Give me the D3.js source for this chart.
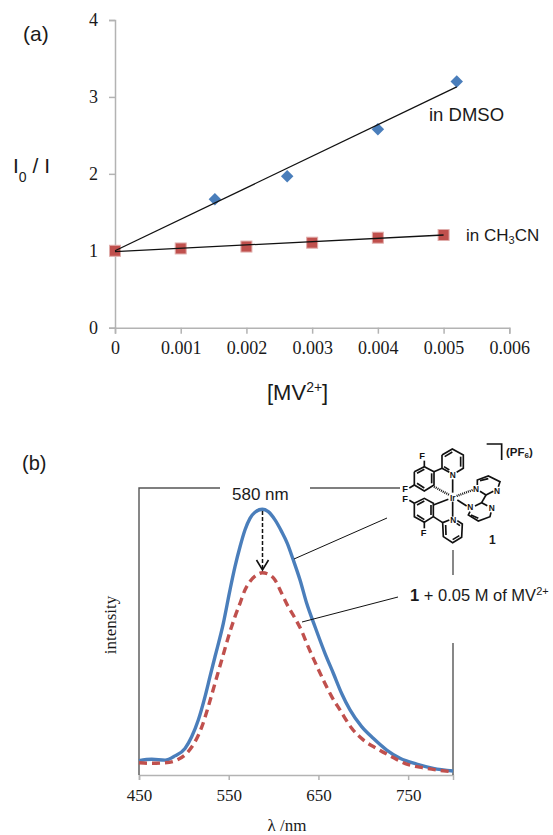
<!DOCTYPE html>
<html>
<head>
<meta charset="utf-8">
<script src="https://d3js.org/d3.v7.min.js"></script>
<style>
  html, body { margin: 0; padding: 0; background: #fff; }
  svg { display: block; }
</style>
</head>
<body>
<div id="chart"></div>
<script>
// panel (a) data
var dmsoConc = [0.00152, 0.00262, 0.004, 0.0052];
var dmsoRatio = [1.67, 1.97, 2.58, 3.2];
var mecnConc = [0, 0.001, 0.002, 0.003, 0.004, 0.005];
var mecnRatio = [1, 1.03, 1.055, 1.105, 1.17, 1.205];
var dmsoFitX = [0, 0.0052];
var dmsoFitY = [1, 3.13];
var mecnFitX = [0, 0.005];
var mecnFitY = [0.99, 1.205];
var xTicksA = [0, 0.001, 0.002, 0.003, 0.004, 0.005, 0.006];
var yTicksA = [0, 1, 2, 3, 4];

// panel (b) data
var blueNm = [450, 464.2, 479, 490.1, 501.3, 508.7, 516.1, 523.6, 529.1, 534.7, 544, 551.4, 557, 562.6, 568.1, 573.7, 579.3, 587.4, 594.1, 601.6, 609, 615.3, 622, 629.5, 636.9, 646.2, 657.3, 666.6, 675.9, 685.2, 698.2, 711.1, 726.1, 740.9, 759.5, 778, 800];
var blueInt = [5.4, 5.9, 5.6, 7.2, 10, 14.4, 20.7, 29.5, 37, 44.5, 57.1, 69.6, 78.4, 85.9, 92.2, 96.6, 98.9, 100, 99.1, 96, 91.6, 87.2, 80.9, 73.4, 64.6, 55.8, 45.8, 38.3, 30.7, 24.5, 18.2, 13.8, 9.4, 6.3, 4.1, 2.5, 1.5];
var redNm = [450, 464.2, 479, 492, 503.2, 512.4, 519.9, 527.2, 534.7, 542.2, 551.4, 557, 562.6, 568.1, 573.7, 581.2, 587.4, 594.1, 601.6, 609, 616.4, 623.9, 631.3, 636.9, 644.3, 655.4, 664.8, 674, 687.1, 700, 714.9, 729.8, 748.4, 766.9, 800];
var redInt = [4.6, 4.4, 4.6, 5.6, 8.2, 12.5, 18, 25.7, 34.5, 43.3, 53.9, 59.6, 64.6, 69.6, 72.8, 75.3, 76.1, 75.6, 73.4, 68.4, 63.3, 59, 54.2, 49.6, 43.9, 35.8, 29.5, 24.5, 17.6, 13.2, 10, 7.2, 4.1, 2.7, 1.2];
var xTicksB = [450, 550, 650, 750];

var svgWidth = 553;
var svgHeight = 835;
var sans = "'Liberation Sans', Arial, sans-serif";
var serif = "'Liberation Serif', 'Times New Roman', serif";
var axisGray = "#b3b3b3";
var blue = "#4a7ebb";
var red = "#c0504d";

var svg = d3.select("#chart")
  .append("svg")
  .attr("width", svgWidth)
  .attr("height", svgHeight);

function zip(xs, ys) {
  return xs.map(function(x, i) { return [x, ys[i]]; });
}

function label(x, y, size, family, text) {
  return svg.append("text")
    .attr("x", x)
    .attr("y", y)
    .attr("font-size", size)
    .attr("font-family", family)
    .attr("fill", "#1a1a1a")
    .text(text);
}

function styleAxis(g, size) {
  g.selectAll("path").attr("stroke", axisGray).attr("stroke-width", 1.5);
  g.selectAll("line").attr("stroke", axisGray).attr("stroke-width", 1.5);
  g.selectAll("text")
    .attr("font-family", serif)
    .attr("font-size", size)
    .attr("fill", "#1a1a1a");
}

// Panel (a)
// ==============================
var xA = d3.scaleLinear().domain([0, 0.006]).range([115, 509.3]);
var yA = d3.scaleLinear().domain([0, 4]).range([327.7, 20]);

var bottomA = d3.axisBottom(xA).tickValues(xTicksA).tickSize(6).tickSizeOuter(6)
  .tickFormat(function(d) { return d === 0 ? "0" : d3.format(".3f")(d); });
var leftA = d3.axisLeft(yA).tickValues(yTicksA).tickSize(6).tickSizeOuter(6).tickFormat(d3.format("d"));

svg.append("g")
  .attr("transform", "translate(0,327.7)")
  .call(bottomA)
  .call(styleAxis, 18)
  .selectAll("text").attr("dy", "0.95em");

svg.append("g")
  .attr("transform", "translate(115,0)")
  .call(leftA)
  .call(styleAxis, 18)
  .selectAll("text").attr("x", -17);

var lineA = d3.line()
  .x(function(d) { return xA(d[0]); })
  .y(function(d) { return yA(d[1]); });

svg.selectAll("rect.mecn")
  .data(zip(mecnConc, mecnRatio))
  .enter().append("rect")
  .attr("class", "mecn")
  .attr("x", function(d) { return xA(d[0]) - 5.5; })
  .attr("y", function(d) { return yA(d[1]) - 5.5; })
  .attr("width", 11)
  .attr("height", 11)
  .attr("fill", red)
  .attr("stroke", "#e0aeac")
  .attr("stroke-width", 1);

svg.selectAll("path.dmso")
  .data(zip(dmsoConc, dmsoRatio))
  .enter().append("path")
  .attr("class", "dmso")
  .attr("d", d3.symbol().type(d3.symbolSquare).size(78))
  .attr("transform", function(d) { return "translate(" + xA(d[0]) + "," + yA(d[1]) + ") rotate(45)"; })
  .attr("fill", blue);

[zip(dmsoFitX, dmsoFitY), zip(mecnFitX, mecnFitY)].forEach(function(fit) {
  svg.append("path")
    .attr("d", lineA(fit))
    .attr("fill", "none")
    .attr("stroke", "#111")
    .attr("stroke-width", 1.3);
});

label(23, 41, 21, sans, "(a)");
var i0 = label(13, 173, 21, sans, "I");
i0.append("tspan").attr("dy", 9).attr("font-size", 14).text("0");
i0.append("tspan").attr("dy", -9).text(" / I");

var mv = label(267, 400, 22, sans, "[MV");
mv.append("tspan").attr("dy", -8).attr("font-size", 14).text("2+");
mv.append("tspan").attr("dy", 8).text("]");

label(429, 121, 18.5, sans, "in DMSO");
var mecn = label(466, 241, 17, sans, "in CH");
mecn.append("tspan").attr("dy", 3).attr("font-size", 11).text("3");
mecn.append("tspan").attr("dy", -3).text("CN");

// Panel (b)
// ==============================
var xB = d3.scaleLinear().domain([450, 800]).range([139, 453]);
var yB = d3.scaleLinear().domain([0, 100]).range([775, 509.3]);

var bottomB = d3.axisBottom(xB).tickValues(xTicksB).tickSize(5).tickSizeOuter(5).tickFormat(d3.format("d"));

svg.append("g")
  .attr("transform", "translate(0,775)")
  .call(bottomB)
  .call(styleAxis, 17)
  .selectAll("text").attr("dy", "1.05em");

// frame around the spectra, broken where labels sit
var frame = [
  [[220, 488], [139, 488], [139, 775]],
  [[310, 488], [400, 488]],
  [[453, 550], [453, 575]],
  [[453, 643], [453, 775]]
];
frame.forEach(function(seg) {
  svg.append("path")
    .attr("d", d3.line()(seg))
    .attr("fill", "none")
    .attr("stroke", "#555")
    .attr("stroke-width", 1.4);
});

var lineB = d3.line()
  .x(function(d) { return xB(d[0]); })
  .y(function(d) { return yB(d[1]); })
  .curve(d3.curveMonotoneX);

svg.append("path")
  .attr("d", lineB(zip(blueNm, blueInt)))
  .attr("fill", "none")
  .attr("stroke", blue)
  .attr("stroke-width", 3.4);

svg.append("path")
  .attr("d", lineB(zip(redNm, redInt)))
  .attr("fill", "none")
  .attr("stroke", red)
  .attr("stroke-width", 3.4)
  .attr("stroke-dasharray", "8,5");

// arrow from the blue peak down to the red peak
svg.append("path")
  .attr("d", "M262.5,511V569")
  .attr("stroke", "#111")
  .attr("stroke-width", 1.5)
  .attr("stroke-dasharray", "4,2")
  .attr("fill", "none");
svg.append("path")
  .attr("d", "M256.5,560L262.5,570L268.5,560")
  .attr("stroke", "#111")
  .attr("stroke-width", 1.6)
  .attr("fill", "none");

// callout lines
svg.append("path").attr("d", "M294,559L387,518").attr("stroke", "#111").attr("stroke-width", 1);
svg.append("path").attr("d", "M302,622L398,597").attr("stroke", "#111").attr("stroke-width", 1);

label(22, 470, 20, sans, "(b)");
label(232, 500, 17, sans, "580 nm");

var cap = label(410, 601, 16.5, sans, "");
cap.append("tspan").attr("font-weight", "bold").text("1");
cap.append("tspan").text(" + 0.05 M of MV");
cap.append("tspan").attr("dy", -6).attr("font-size", 11).text("2+");

label(0, 0, 17, serif, "intensity")
  .attr("text-anchor", "middle")
  .attr("transform", "translate(116,625) rotate(-90)");

label(287, 831, 17, serif, "λ /nm").attr("text-anchor", "middle");

// Structure of complex 1, drawn in its own group
// ==============================
var mol = svg.append("g")
  .attr("transform", "translate(380,420) scale(0.3333)")
  .attr("fill", "none")
  .attr("stroke", "#111")
  .attr("stroke-width", 5);

var bonds = [
  [[186,105],[217,87],[250,105],[250,145],[230,157]],
  [[208,157],[186,145],[186,105]],
  [[194,110],[217,96]], [[242,110],[242,140]], [[192,140],[208,150]],
  [[103,155],[133,140],[162,155],[162,195],[133,213],[103,195],[103,155]],
  [[111,160],[133,148]], [[155,160],[155,190]], [[111,190],[133,204]],
  [[133,140],[133,122]], [[103,195],[88,204]], [[162,155],[186,145]],
  [[218,178],[218,218]], [[218,245],[218,290]],
  [[103,250],[133,235],[160,250],[160,290],[133,307],[103,290],[103,250]],
  [[111,255],[133,243]], [[153,255],[153,285]], [[111,285],[133,299]],
  [[103,250],[88,241]], [[133,307],[133,325]], [[160,290],[188,308]],
  [[160,255],[205,238]],
  [[208,300],[188,308],[190,350],[218,368],[245,352],[247,312],[232,302]],
  [[197,315],[198,345]], [[218,359],[238,347]], [[240,317],[230,310]],
  [[232,240],[260,258]],
  [[292,195],[292,180],[325,168],[360,185],[355,200]],
  [[300,182],[325,176]], [[340,214],[318,225],[300,214]], [[318,225],[305,248]],
  [[270,275],[265,285],[295,303],[330,290],[333,277]],
  [[273,285],[295,295]], [[322,257],[305,248],[285,258]],
  [[320,72],[365,72],[365,120]]
];
bonds.forEach(function(b) {
  mol.append("path").attr("d", d3.line()(b));
});

// hashed bonds to the metal
[[[162,200],[208,225]], [[230,228],[278,210]]].forEach(function(b) {
  mol.append("path").attr("d", d3.line()(b)).attr("stroke-dasharray", "3,3").attr("stroke-width", 7);
});

var atoms = [
  ["F",126,118], ["F",75,215], ["F",75,246], ["F",131,349],
  ["N",218,175], ["N",220,309], ["N",288,216], ["N",351,221],
  ["N",271,271], ["N",335,274], ["Ir",218,242]
];
mol.selectAll("text")
  .data(atoms)
  .enter().append("text")
  .attr("x", function(d) { return d[1]; })
  .attr("y", function(d) { return d[2]; })
  .attr("text-anchor", "middle")
  .attr("font-family", sans)
  .attr("font-weight", "bold")
  .attr("font-size", function(d) { return d[0] === "F" ? 28 : 25; })
  .attr("fill", "#111")
  .attr("stroke", "none")
  .text(function(d) { return d[0]; });

label(489, 544, 12, sans, "1").attr("font-weight", "bold");
var pf = label(506, 456, 11.5, sans, "(PF").attr("font-weight", "bold");
pf.append("tspan").attr("dy", 2).attr("font-size", 8).text("6");
pf.append("tspan").attr("dy", -2).text(")");
</script>
</body>
</html>
